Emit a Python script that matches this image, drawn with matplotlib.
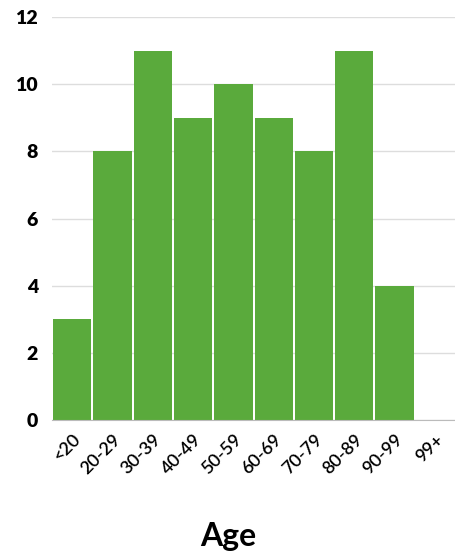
import matplotlib.pyplot as plt
import matplotlib.transforms as mtransforms

age_groups = ["<20", "20-29", "30-39", "40-49", "50-59",
              "60-69", "70-79", "80-89", "90-99", "99+"]
counts = [3, 8, 11, 9, 10, 9, 8, 11, 4, 0]
y_ticks = [0, 2, 4, 6, 8, 10, 12]

plt.rcParams["font.family"] = ["Lato", "DejaVu Sans"]

fig = plt.figure(figsize=(4.56, 5.56), dpi=100)
ax = fig.add_axes([0.114, 0.2446, 0.884, 0.7248])

x = range(len(age_groups))
ax.bar(x, counts, width=0.95, color="#5aaa3c", zorder=3)

ax.set_xlim(-0.5, len(age_groups) - 0.5)
ax.set_ylim(0, 12)
ax.set_yticks(y_ticks)
ax.set_yticklabels([str(t) for t in y_ticks], fontsize=14, fontweight="heavy")
ax.set_xticks(list(x))
ax.set_xticklabels(age_groups, fontsize=13, fontweight="semibold",
                   rotation=45, ha="right", rotation_mode="anchor")

# nudge the rotated labels so they sit under their bars
offset = mtransforms.ScaledTranslation(10 / 72, -3 / 72, fig.dpi_scale_trans)
for lbl in ax.get_xticklabels():
    lbl.set_transform(lbl.get_transform() + offset)

ax.grid(axis="y", color="#dddddd", linewidth=1, zorder=0)
for side in ["top", "right", "left"]:
    ax.spines[side].set_visible(False)
ax.spines["bottom"].set_color("#bbbbbb")
ax.spines["bottom"].set_zorder(4)
ax.tick_params(axis="y", length=0, pad=10)
ax.tick_params(axis="x", length=0, pad=8)

fig.text(0.5, 0.018, "Age", ha="center", va="baseline", fontsize=23,
         fontweight="bold")

fig.savefig("out.png", dpi=100)
